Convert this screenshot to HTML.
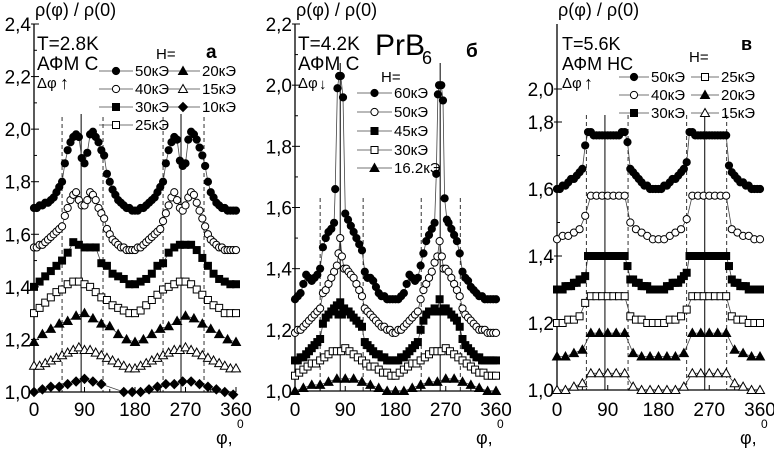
<!DOCTYPE html>
<html><head><meta charset="utf-8"><style>
html,body{margin:0;padding:0;background:#fff;}
svg{display:block;font-family:"Liberation Sans",Arial,sans-serif;}
</style></head><body>
<svg id="fig" width="774" height="450" viewBox="0 0 774 450" xmlns="http://www.w3.org/2000/svg"></svg>
<script>
// ---------- Panel a data ----------
const aTickY = ["1,0","1,2","1,4","1,6","1,8","2,0","2,2","2,4"];
const aTickYv = [1.0,1.2,1.4,1.6,1.8,2.0,2.2,2.4];
const xTickLabels = ["0","90","180","270","360"];
const xTickVals = [0,90,180,270,360];
const a50val = [1.70,1.70,1.71,1.71,1.72,1.72,1.73,1.74,1.76,1.78,1.80,1.87,1.92,1.95,1.97,1.98,1.97,1.89,1.87,1.91,1.98,1.99,1.97,1.95,1.92,1.90,1.83,1.80,1.77,1.75,1.73,1.72,1.71,1.70,1.70,1.69,1.69,1.69,1.70,1.70,1.71,1.72,1.73,1.74,1.76,1.78,1.80,1.87,1.92,1.95,1.97,1.96,1.88,1.86,1.87,1.96,1.99,1.98,1.96,1.93,1.90,1.86,1.80,1.76,1.74,1.72,1.71,1.70,1.70,1.69,1.69,1.69,1.69];
const a40val = [1.55,1.55,1.56,1.56,1.57,1.58,1.59,1.60,1.61,1.62,1.63,1.67,1.70,1.73,1.75,1.76,1.73,1.71,1.71,1.73,1.76,1.75,1.73,1.70,1.68,1.66,1.62,1.60,1.58,1.57,1.56,1.55,1.55,1.54,1.54,1.54,1.54,1.55,1.55,1.56,1.57,1.58,1.59,1.60,1.61,1.62,1.65,1.68,1.71,1.74,1.76,1.73,1.70,1.69,1.71,1.74,1.76,1.75,1.72,1.69,1.66,1.63,1.60,1.58,1.57,1.56,1.55,1.55,1.54,1.54,1.54,1.54,1.54];
const a30val = [1.40,1.42,1.44,1.46,1.48,1.50,1.53,1.57,1.56,1.55,1.55,1.55,1.49,1.48,1.45,1.44,1.43,1.41,1.41,1.42,1.43,1.45,1.48,1.49,1.53,1.55,1.56,1.56,1.56,1.54,1.51,1.48,1.45,1.43,1.42,1.41,1.41];
const a25val = [1.30,1.32,1.34,1.36,1.38,1.39,1.41,1.42,1.42,1.41,1.40,1.38,1.36,1.35,1.33,1.32,1.31,1.30,1.30,1.31,1.33,1.35,1.37,1.39,1.40,1.41,1.42,1.42,1.41,1.39,1.37,1.35,1.33,1.32,1.30,1.30,1.30];
const a20val = [1.19,1.22,1.24,1.26,1.27,1.29,1.30,1.28,1.26,1.25,1.22,1.20,1.19,1.20,1.22,1.24,1.25,1.27,1.29,1.28,1.26,1.24,1.22,1.20,1.19];
const a15val = [1.10,1.10,1.11,1.12,1.13,1.14,1.15,1.16,1.17,1.16,1.16,1.15,1.14,1.13,1.12,1.11,1.10,1.09,1.09,1.10,1.11,1.12,1.13,1.14,1.15,1.16,1.16,1.17,1.16,1.15,1.14,1.13,1.12,1.11,1.10,1.09,1.09];
const a10phi = [0,15,30,45,60,75,90,105,120,160,175,190,205,220,235,250,265,280,295,310,325,340,355];
const a10val = [1.00,1.01,1.02,1.02,1.03,1.04,1.05,1.04,1.03,1.00,1.00,1.00,1.01,1.02,1.03,1.03,1.04,1.04,1.03,1.02,1.01,1.00,0.99];
const aSolid = [84,262];
const aDashed = [50,123,230,303];

// ---------- Panel b data ----------
const bTickY = ["1,0","1,2","1,4","1,6","1,8","2,0","2,2"];
const bTickYv = [1.0,1.2,1.4,1.6,1.8,2.0,2.2];
const b60phi = [0,5,10,15,20,25,30,35,40,45,50,55,60,65,70,72,76,79,82,86,90,95,100,105,110,115,120,125,130,135,140,145,150,155,160,165,170,175,180,185,190,195,200,205,210,215,220,225,230,235,240,245,250,253,256,258,262,265,268,272,275,280,285,290,295,300,305,310,315,320,325,330,335,340,345,350,355,360];
const b60val = [1.30,1.31,1.32,1.35,1.38,1.37,1.36,1.37,1.38,1.40,1.47,1.50,1.52,1.53,1.55,1.66,1.99,2.03,2.03,1.96,1.58,1.56,1.54,1.52,1.50,1.48,1.46,1.39,1.37,1.37,1.36,1.34,1.32,1.31,1.31,1.30,1.30,1.30,1.30,1.30,1.31,1.32,1.35,1.38,1.37,1.36,1.37,1.41,1.45,1.49,1.51,1.53,1.55,1.71,1.97,2.00,2.00,1.95,1.63,1.56,1.55,1.53,1.51,1.49,1.45,1.39,1.37,1.36,1.34,1.33,1.32,1.31,1.31,1.30,1.30,1.30,1.30,1.30];
const b50phi = [0,5,10,15,20,25,30,35,40,45,50,55,60,65,70,75,78,81,84,88,92,96,100,105,110,115,120,125,130,135,140,145,150,155,160,165,170,175,180,185,190,195,200,205,210,215,220,225,230,235,240,245,250,255,259,263,266,270,275,280,285,290,295,300,305,310,315,320,325,330,335,340,345,350,355,360];
const b50val = [1.19,1.20,1.20,1.21,1.22,1.23,1.24,1.25,1.26,1.27,1.32,1.33,1.35,1.37,1.39,1.41,1.45,1.50,1.44,1.40,1.40,1.39,1.38,1.37,1.35,1.33,1.31,1.27,1.26,1.25,1.24,1.23,1.22,1.21,1.21,1.20,1.20,1.19,1.19,1.20,1.20,1.21,1.22,1.23,1.24,1.25,1.26,1.30,1.33,1.35,1.37,1.39,1.42,1.44,1.49,1.44,1.40,1.40,1.39,1.37,1.35,1.33,1.31,1.27,1.25,1.24,1.23,1.22,1.21,1.20,1.20,1.20,1.19,1.19,1.19,1.19];
const b45val = [1.10,1.10,1.11,1.11,1.12,1.13,1.14,1.15,1.16,1.17,1.22,1.24,1.25,1.26,1.27,1.28,1.25,1.29,1.25,1.27,1.26,1.26,1.25,1.24,1.23,1.22,1.21,1.16,1.15,1.14,1.13,1.12,1.12,1.11,1.11,1.10,1.10,1.10,1.10,1.10,1.11,1.11,1.12,1.13,1.14,1.15,1.16,1.20,1.23,1.25,1.26,1.26,1.27,1.26,1.30,1.26,1.27,1.27,1.26,1.25,1.24,1.23,1.21,1.17,1.15,1.14,1.13,1.12,1.11,1.11,1.10,1.10,1.10,1.10,1.10,1.10];
const b30val = [1.05,1.06,1.07,1.08,1.09,1.09,1.10,1.11,1.12,1.13,1.13,1.13,1.14,1.13,1.12,1.11,1.10,1.09,1.08,1.08,1.07,1.06,1.06,1.05,1.05,1.06,1.07,1.08,1.09,1.09,1.10,1.11,1.12,1.13,1.13,1.13,1.14,1.13,1.12,1.11,1.10,1.09,1.08,1.07,1.06,1.06,1.05,1.05,1.05];
const b16val = [1.00,1.01,1.02,1.02,1.03,1.04,1.04,1.04,1.03,1.02,1.01,1.00,1.00,1.00,1.01,1.02,1.03,1.03,1.04,1.04,1.03,1.02,1.01,1.00,1.00];
const bSolid = [81,260];
const bDashed = [45,122,226,296];

// ---------- Panel c data ----------
const cTickY = ["1,0","1,2","1,4","1,6","1,8","2,0"];
const cTickYv = [1.0,1.2,1.4,1.6,1.8,2.0];
const c50val = [1.60,1.60,1.61,1.61,1.62,1.63,1.63,1.64,1.65,1.66,1.73,1.77,1.77,1.76,1.76,1.76,1.76,1.76,1.76,1.76,1.76,1.76,1.76,1.77,1.77,1.74,1.66,1.65,1.64,1.63,1.62,1.61,1.61,1.60,1.60,1.60,1.60,1.60,1.61,1.61,1.62,1.63,1.63,1.64,1.65,1.66,1.68,1.77,1.77,1.76,1.76,1.76,1.76,1.76,1.76,1.76,1.76,1.76,1.76,1.76,1.76,1.67,1.65,1.64,1.63,1.62,1.62,1.61,1.61,1.60,1.60,1.60,1.60];
const c40val = [1.45,1.46,1.46,1.47,1.48,1.52,1.58,1.58,1.58,1.58,1.58,1.58,1.58,1.50,1.48,1.47,1.46,1.45,1.45,1.45,1.46,1.47,1.48,1.51,1.58,1.58,1.58,1.58,1.58,1.58,1.58,1.48,1.47,1.46,1.46,1.45,1.45];
const c30val = [1.30,1.30,1.30,1.31,1.31,1.31,1.32,1.32,1.33,1.33,1.34,1.40,1.40,1.40,1.40,1.40,1.40,1.40,1.40,1.40,1.40,1.40,1.40,1.40,1.40,1.37,1.33,1.33,1.32,1.32,1.31,1.31,1.31,1.30,1.30,1.30,1.30,1.30,1.30,1.31,1.31,1.32,1.32,1.32,1.33,1.34,1.35,1.40,1.40,1.40,1.40,1.40,1.40,1.40,1.40,1.40,1.40,1.40,1.40,1.40,1.40,1.37,1.33,1.32,1.32,1.31,1.31,1.31,1.30,1.30,1.30,1.30,1.30];
const c25val = [1.20,1.20,1.21,1.21,1.22,1.26,1.28,1.28,1.28,1.28,1.28,1.28,1.28,1.22,1.21,1.21,1.20,1.20,1.20,1.20,1.21,1.21,1.22,1.24,1.28,1.28,1.28,1.28,1.28,1.28,1.28,1.22,1.21,1.21,1.20,1.20,1.20];
const c20val = [1.10,1.10,1.11,1.12,1.17,1.17,1.17,1.17,1.17,1.11,1.10,1.10,1.10,1.10,1.10,1.11,1.17,1.17,1.17,1.17,1.17,1.12,1.11,1.10,1.10];
const c15val = [1.00,1.00,1.01,1.02,1.05,1.05,1.05,1.05,1.05,1.01,1.00,1.00,1.00,1.00,1.00,1.01,1.05,1.05,1.05,1.05,1.05,1.02,1.01,1.00,1.00];
const cSolid = [85,262];
const cDashed = [52,126,230,301];

function range(a,b,s){const r=[];for(let v=a;v<=b+1e-9;v+=s)r.push(v);return r;}
const step5=range(0,360,5), step10=range(0,360,10), step15=range(0,360,15), step75=range(0,360,7.5);

const NS="http://www.w3.org/2000/svg";
const svg=document.getElementById('fig');
function mk(tag,attrs,parent){const e=document.createElementNS(NS,tag);for(const k in attrs)e.setAttribute(k,attrs[k]);(parent||svg).appendChild(e);return e;}
function txt(s,x,y,size,opts,parent){const e=mk('text',Object.assign({x:x,y:y,'font-size':size,fill:'#000'},opts||{}),parent);e.textContent=s;return e;}

function marker(g,kind,x,y){
  let e;const f=(kind.indexOf('open')===0)?'#fff':'#000';
  if(kind.endsWith('circle')) e=mk('circle',{cx:x,cy:y,r:3.6,fill:f,stroke:'#000','stroke-width':1},g);
  else if(kind.endsWith('square')) e=mk('rect',{x:x-3.5,y:y-3.5,width:7,height:7,fill:f,stroke:'#000','stroke-width':1},g);
  else if(kind.endsWith('triangle')) e=mk('polygon',{points:`${x},${y-4.5} ${x+4.5},${y+3.5} ${x-4.5},${y+3.5}`,fill:f,stroke:'#000','stroke-width':1},g);
  else e=mk('polygon',{points:`${x},${y-4.5} ${x+4.5},${y} ${x},${y+4.5} ${x-4.5},${y}`,fill:f,stroke:'#000','stroke-width':1},g);
  return e;
}

function panel(P){
  const g=mk('g',{});
  
  
  const X=v=>P.x0+(P.x1-P.x0)*v/360;
  const Y=v=>P.y0-(v-1.0)*P.ppu;
  const yl=txt('ρ(φ) / ρ(0)',P.x0+1,16,18,{},g);
  
  
  const ax=mk('path',{d:`M${P.x0},${P.top} V${P.y0} H${P.x1}`,fill:'none',stroke:'#000','stroke-width':1.3},g);
  
  
  P.ty.forEach((lab,i)=>{
    const yy=(P.tyPos&&P.tyPos[i]!=null)?P.tyPos[i]:Y(P.tyv[i]);
    mk('line',{x1:P.x0-3,x2:P.x0+5,y1:yy,y2:yy,stroke:'#000','stroke-width':1},g);
    const t=txt(lab,P.x0-3,yy+7,19,{'text-anchor':'end'},g);
    
    
    if(i<P.ty.length-1&&!(P.tyPos&&P.tyPos[i+1]!=null)){const ym=Y(P.tyv[i]+0.1);mk('line',{x1:P.x0,x2:P.x0+3,y1:ym,y2:ym,stroke:'#000','stroke-width':1},g);}
  });
  xTickVals.forEach((v,i)=>{
    const xx=X(v);
    mk('line',{x1:xx,x2:xx,y1:P.y0,y2:P.y0-5,stroke:'#000','stroke-width':1},g);
    if(i<xTickVals.length-1){const xm=X(v+45);mk('line',{x1:xm,x2:xm,y1:P.y0,y2:P.y0-3,stroke:'#000','stroke-width':1},g);}
    const t=txt(xTickLabels[i],xx,416,19,{'text-anchor':'middle'},g);
    
    
  });
  const xl=txt('φ,',P.x1-20,444,18,{},g);
  
  
  txt('0',P.x1+1,428,12,{},g);
  P.solid.forEach(v=>{const l=mk('line',{x1:X(v),x2:X(v),y1:P.solidTop,y2:P.y0,stroke:'#000','stroke-width':1},g);
    
    });
  P.dashed.forEach(v=>{const l=mk('line',{x1:X(v),x2:X(v),y1:P.dashTop,y2:P.y0,stroke:'#000','stroke-width':0.8,'stroke-dasharray':'4,3'},g);
    
    });
  P.series.forEach(s=>{
    const sg=mk('g',{},g);
    
    
    const n=Math.min(s.phi.length,s.val.length);
    let d='';for(let i=0;i<n;i++)d+=(i?'L':'M')+X(s.phi[i]).toFixed(1)+','+Y(s.val[i]).toFixed(1);
    mk('path',{d:d,fill:'none',stroke:'#444','stroke-width':0.8},sg);
    for(let i=0;i<n;i++){const m=marker(sg,s.kind,X(s.phi[i]),Y(s.val[i]));
      
      }
  });
  const lg=mk('g',{},g);
  
  
  txt('H=',P.legH[0],P.legH[1],15,{},lg);
  P.series.forEach((s,i)=>{
    const L=P.leg[i];
    const eg=mk('g',{},lg);
    
    
    mk('line',{x1:L[0],x2:L[0]+L[2],y1:L[1],y2:L[1],stroke:'#444','stroke-width':0.8},eg);
    marker(eg,s.kind,L[0]+L[2]/2,L[1]);
    txt(s.label,L[0]+L[2]+2,L[1]+5,15,{},eg);
  });
  P.notes.forEach(nn=>{const t=txt(nn[0],nn[1],nn[2],nn[3],nn[4]||{},g);
    
    });
  return g;
}

panel({name:'panel-a',x0:34,x1:236,y0:392,top:24,ppu:(392-24)/1.4,ty:aTickY,tyv:aTickYv,
  solid:aSolid,dashed:aDashed,solidTop:114,dashTop:117,
  series:[
    {label:'50кЭ',kind:'circle',phi:step5,val:a50val},
    {label:'40кЭ',kind:'open-circle',phi:step5,val:a40val},
    {label:'30кЭ',kind:'square',phi:step10,val:a30val},
    {label:'25кЭ',kind:'open-square',phi:step10,val:a25val},
    {label:'20кЭ',kind:'triangle',phi:step15,val:a20val},
    {label:'15кЭ',kind:'open-triangle',phi:step10,val:a15val},
    {label:'10кЭ',kind:'diamond',phi:a10phi,val:a10val}],
  legH:[156,59],
  leg:[[99,71,34],[99,89,34],[99,107,34],[99,125,34],[166,71,34],[166,89,34],[166,107,34]],
  notes:[['T=2.8K',37,50,19],['АФМ С',37,70,19],['Δφ',37,88,15],['↑',60,89,18],['a',206,58,19,{'font-weight':'bold'}]]});

panel({name:'panel-b',x0:295,x1:496,y0:391,top:24,ppu:(391-24)/1.2,ty:bTickY,tyv:bTickYv,
  solid:bSolid,dashed:bDashed,solidTop:63,dashTop:198,
  series:[
    {label:'60кЭ',kind:'circle',phi:b60phi,val:b60val},
    {label:'50кЭ',kind:'open-circle',phi:b50phi,val:b50val},
    {label:'45кЭ',kind:'square',phi:b50phi,val:b45val},
    {label:'30кЭ',kind:'open-square',phi:step75,val:b30val},
    {label:'16.2кЭ',kind:'triangle',phi:step15,val:b16val}],
  legH:[381,82],
  leg:[[357,93,35],[357,112,35],[357,131,35],[357,150,35],[357,168,35]],
  notes:[['T=4.2K',298,50,19],['АФМ С',298,70,19],['Δφ',298,88,15],['↓',319,89,15],['PrB',375,55,30],['6',422,64,18],['б',466,57,19,{'font-weight':'bold'}]]});

panel({name:'panel-c',x0:557,x1:760,y0:390,top:24,ppu:67/0.2,ty:cTickY,tyv:cTickYv,tyPos:[null,null,null,null,null,89],
  solid:cSolid,dashed:cDashed,solidTop:115,dashTop:115,
  series:[
    {label:'50кЭ',kind:'circle',phi:step5,val:c50val},
    {label:'40кЭ',kind:'open-circle',phi:step10,val:c40val},
    {label:'30кЭ',kind:'square',phi:step5,val:c30val},
    {label:'25кЭ',kind:'open-square',phi:step10,val:c25val},
    {label:'20кЭ',kind:'triangle',phi:step15,val:c20val},
    {label:'15кЭ',kind:'open-triangle',phi:step15,val:c15val}],
  legH:[689,62],
  leg:[[619,77,30],[619,95,30],[619,113,30],[691,77,28],[691,95,28],[691,113,28]],
  notes:[['T=5.6K',562,50,18],['АФМ НС',562,70,18],['Δφ',562,88,15],['↑',584,89,18],['в',741,50,18,{'font-weight':'bold'}]]});
</script>
</body></html>
